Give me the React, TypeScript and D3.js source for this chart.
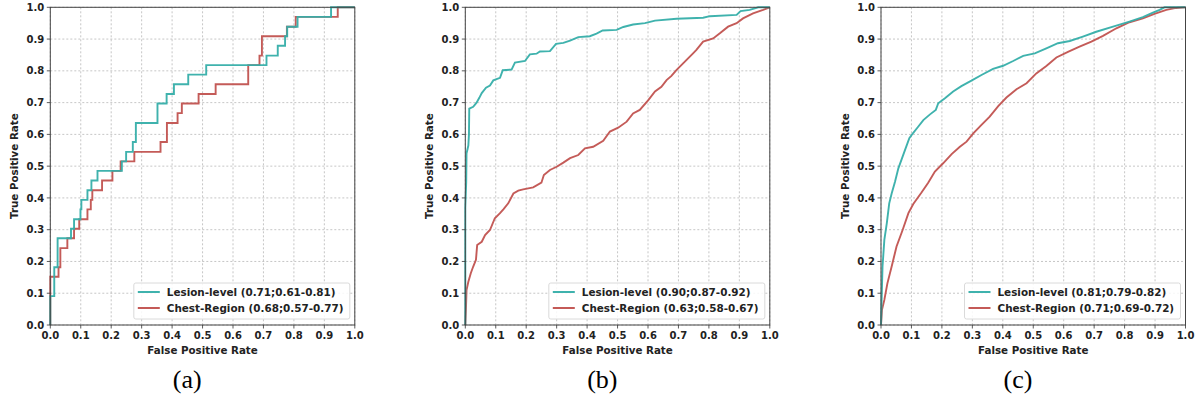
import React from "react";
import * as d3 from "d3";

type Pt = [number, number];

// ---- Data (FPR, TPR) ----
const rocALesion: Pt[] = [[0,0],[0,0.091],[0.013,0.091],[0.013,0.182],[0.024,0.182],[0.024,0.273],[0.068,0.273],[0.068,0.303],[0.078,0.303],[0.078,0.333],[0.099,0.333],[0.099,0.364],[0.102,0.364],[0.102,0.394],[0.122,0.394],[0.122,0.424],[0.135,0.424],[0.135,0.455],[0.155,0.455],[0.155,0.485],[0.235,0.485],[0.235,0.515],[0.249,0.515],[0.249,0.545],[0.271,0.545],[0.271,0.576],[0.281,0.576],[0.281,0.636],[0.352,0.636],[0.352,0.697],[0.382,0.697],[0.382,0.727],[0.406,0.727],[0.406,0.758],[0.453,0.758],[0.453,0.788],[0.512,0.788],[0.512,0.818],[0.71,0.818],[0.71,0.848],[0.747,0.848],[0.747,0.879],[0.771,0.879],[0.771,0.909],[0.778,0.909],[0.778,0.939],[0.812,0.939],[0.812,0.97],[0.922,0.97],[0.922,1],[1,1]];
const rocAChest: Pt[] = [[0,0],[0,0.152],[0.027,0.152],[0.027,0.182],[0.033,0.182],[0.033,0.242],[0.056,0.242],[0.056,0.273],[0.078,0.273],[0.078,0.303],[0.095,0.303],[0.095,0.333],[0.122,0.333],[0.122,0.364],[0.133,0.364],[0.133,0.394],[0.138,0.394],[0.138,0.424],[0.17,0.424],[0.17,0.455],[0.204,0.455],[0.204,0.485],[0.231,0.485],[0.231,0.515],[0.276,0.515],[0.276,0.545],[0.362,0.545],[0.362,0.576],[0.383,0.576],[0.383,0.636],[0.418,0.636],[0.418,0.667],[0.432,0.667],[0.432,0.697],[0.487,0.697],[0.487,0.727],[0.543,0.727],[0.543,0.758],[0.65,0.758],[0.65,0.818],[0.687,0.818],[0.687,0.848],[0.695,0.848],[0.695,0.909],[0.777,0.909],[0.777,0.939],[0.806,0.939],[0.806,0.97],[0.944,0.97],[0.944,1],[1,1]];

const rocBLesion: Pt[] = [[0,0],[0,0.37],[0.003,0.45],[0.004,0.54],[0.01,0.565],[0.012,0.6],[0.013,0.681],[0.026,0.687],[0.037,0.70],[0.046,0.715],[0.054,0.73],[0.068,0.747],[0.081,0.754],[0.092,0.77],[0.114,0.778],[0.123,0.802],[0.152,0.804],[0.163,0.826],[0.196,0.831],[0.212,0.852],[0.234,0.854],[0.245,0.861],[0.278,0.862],[0.298,0.885],[0.322,0.888],[0.344,0.895],[0.371,0.906],[0.409,0.909],[0.431,0.917],[0.451,0.927],[0.497,0.929],[0.519,0.938],[0.551,0.946],[0.59,0.95],[0.623,0.958],[0.694,0.964],[0.781,0.967],[0.803,0.972],[0.891,0.976],[0.904,0.988],[0.934,0.992],[0.962,1],[1,1]];
const rocBChest: Pt[] = [[0,0],[0.002,0.047],[0.004,0.11],[0.01,0.136],[0.018,0.163],[0.026,0.184],[0.035,0.205],[0.039,0.252],[0.054,0.262],[0.065,0.283],[0.081,0.299],[0.097,0.336],[0.114,0.352],[0.125,0.364],[0.141,0.383],[0.158,0.414],[0.174,0.423],[0.19,0.427],[0.223,0.433],[0.25,0.448],[0.258,0.472],[0.278,0.488],[0.30,0.498],[0.322,0.511],[0.344,0.525],[0.371,0.535],[0.393,0.556],[0.42,0.561],[0.453,0.58],[0.475,0.609],[0.502,0.621],[0.53,0.64],[0.551,0.666],[0.573,0.677],[0.601,0.708],[0.623,0.735],[0.644,0.75],[0.661,0.771],[0.677,0.784],[0.694,0.803],[0.721,0.829],[0.748,0.855],[0.759,0.866],[0.781,0.892],[0.814,0.902],[0.836,0.918],[0.863,0.939],[0.891,0.95],[0.912,0.965],[0.945,0.981],[0.978,0.992],[1,1]];

const rocCLesion: Pt[] = [[0,0],[0.002,0.079],[0.005,0.184],[0.011,0.268],[0.019,0.32],[0.027,0.383],[0.035,0.414],[0.046,0.451],[0.057,0.493],[0.068,0.522],[0.079,0.551],[0.093,0.588],[0.106,0.605],[0.122,0.624],[0.139,0.645],[0.161,0.663],[0.18,0.677],[0.188,0.698],[0.21,0.714],[0.237,0.735],[0.264,0.752],[0.297,0.769],[0.33,0.787],[0.368,0.806],[0.401,0.816],[0.434,0.831],[0.467,0.847],[0.505,0.855],[0.543,0.871],[0.581,0.887],[0.62,0.894],[0.663,0.908],[0.707,0.923],[0.762,0.939],[0.816,0.955],[0.86,0.969],[0.893,0.983],[0.915,0.992],[0.931,1],[1,1]];
const rocCChest: Pt[] = [[0,0],[0.003,0.047],[0.011,0.079],[0.021,0.131],[0.035,0.184],[0.051,0.247],[0.071,0.299],[0.09,0.352],[0.106,0.381],[0.133,0.417],[0.155,0.448],[0.177,0.483],[0.204,0.509],[0.232,0.538],[0.259,0.561],[0.281,0.577],[0.303,0.603],[0.33,0.63],[0.357,0.656],[0.385,0.689],[0.412,0.716],[0.445,0.742],[0.478,0.761],[0.51,0.792],[0.543,0.815],[0.576,0.842],[0.614,0.86],[0.652,0.876],[0.691,0.892],[0.729,0.91],[0.773,0.934],[0.816,0.953],[0.86,0.965],[0.898,0.979],[0.937,0.992],[0.969,0.998],[1,1]];

const lesionLabels = ["Lesion-level (0.71;0.61-0.81)", "Lesion-level (0.90;0.87-0.92)", "Lesion-level (0.81;0.79-0.82)"];
const chestLabels = ["Chest-Region (0.68;0.57-0.77)", "Chest-Region (0.63;0.58-0.67)", "Chest-Region (0.71;0.69-0.72)"];
const captions = ["(a)", "(b)", "(c)"];
const tickValues = [0, 0.1, 0.2, 0.3, 0.4, 0.5, 0.6, 0.7, 0.8, 0.9, 1.0];

const panelsData = [
  { lesion: rocALesion, chest: rocAChest },
  { lesion: rocBLesion, chest: rocBChest },
  { lesion: rocCLesion, chest: rocCChest },
];

const TEAL = "#35aea9";
const RED = "#c1524f";
const FONT = "'DejaVu Sans', sans-serif";

const panelLefts = [50.3, 465.3, 881];
const PW = 304.5;
const TOP = 7.3;
const BOTTOM = 325;

function Panel({ idx }: { idx: number }) {
  const left = panelLefts[idx];
  const right = left + PW;
  const x = d3.scaleLinear().domain([0, 1]).range([left, right]);
  const y = d3.scaleLinear().domain([0, 1]).range([BOTTOM, TOP]);
  const line = d3.line<Pt>().x(d => x(d[0])).y(d => y(d[1]));
  const { lesion, chest } = panelsData[idx];
  const legW = 216;
  const legH = 36;
  const legX = right - 5 - legW;
  const legY = BOTTOM - 6 - legH;
  return (
    <g>
      {tickValues.map((t, i) => (
        <g key={"g" + i}>
          <line x1={x(t)} x2={x(t)} y1={TOP} y2={BOTTOM} stroke="#b8b8b8" strokeWidth={0.8} strokeDasharray="2,2" />
          <line x1={left} x2={right} y1={y(t)} y2={y(t)} stroke="#b8b8b8" strokeWidth={0.8} strokeDasharray="2,2" />
        </g>
      ))}
      <path d={line(chest) || ""} fill="none" stroke={RED} strokeWidth={1.9} strokeOpacity={0.95} />
      <path d={line(lesion) || ""} fill="none" stroke={TEAL} strokeWidth={1.9} strokeOpacity={0.95} />
      <rect x={left} y={TOP} width={PW} height={BOTTOM - TOP} fill="none" stroke="#444" strokeWidth={1} />
      {tickValues.map((t, i) => (
        <g key={"t" + i}>
          <line x1={x(t)} x2={x(t)} y1={BOTTOM} y2={BOTTOM + 3.5} stroke="#333" strokeWidth={0.8} />
          <text x={x(t)} y={BOTTOM + 14} textAnchor="middle" fontFamily={FONT} fontWeight="bold" fontSize={10} fill="#222">
            {t.toFixed(1)}
          </text>
          <line x1={left - 3.5} x2={left} y1={y(t)} y2={y(t)} stroke="#333" strokeWidth={0.8} />
          <text x={left - 6} y={y(t) + 3.6} textAnchor="end" fontFamily={FONT} fontWeight="bold" fontSize={10} fill="#222">
            {t.toFixed(1)}
          </text>
        </g>
      ))}
      <text x={(left + right) / 2} y={BOTTOM + 29} textAnchor="middle" fontFamily={FONT} fontWeight="bold" fontSize={10.3} fill="#222">
        False Positive Rate
      </text>
      <text transform={`translate(${left - 32.5},${(TOP + BOTTOM) / 2}) rotate(-90)`} textAnchor="middle" fontFamily={FONT} fontWeight="bold" fontSize={10.3} fill="#222">
        True Positive Rate
      </text>
      <rect x={legX} y={legY} width={legW} height={legH} rx={2} fill="#fff" fillOpacity={0.85} stroke="#d0d0d0" strokeWidth={0.8} />
      <line x1={legX + 4} x2={legX + 26} y1={legY + 9} y2={legY + 9} stroke={TEAL} strokeWidth={1.9} />
      <text x={legX + 33} y={legY + 12.8} fontFamily={FONT} fontWeight="bold" fontSize={10.4} fill="#222">{lesionLabels[idx]}</text>
      <line x1={legX + 4} x2={legX + 26} y1={legY + 25} y2={legY + 25} stroke={RED} strokeWidth={1.9} />
      <text x={legX + 33} y={legY + 28.8} fontFamily={FONT} fontWeight="bold" fontSize={10.4} fill="#222">{chestLabels[idx]}</text>
      <text x={left + 137} y={388} textAnchor="middle" fontFamily="'Liberation Serif', 'Times New Roman', serif" fontSize={26} fill="#000">
        {captions[idx]}
      </text>
    </g>
  );
}

export default function App() {
  return (
    <svg width={1195} height={400} style={{ position: "absolute", left: 0, top: 0, background: "#fff" }}>
      <rect x={0} y={0} width={1195} height={400} fill="#fff" />
      {[0, 1, 2].map(i => <Panel key={i} idx={i} />)}
    </svg>
  );
}
